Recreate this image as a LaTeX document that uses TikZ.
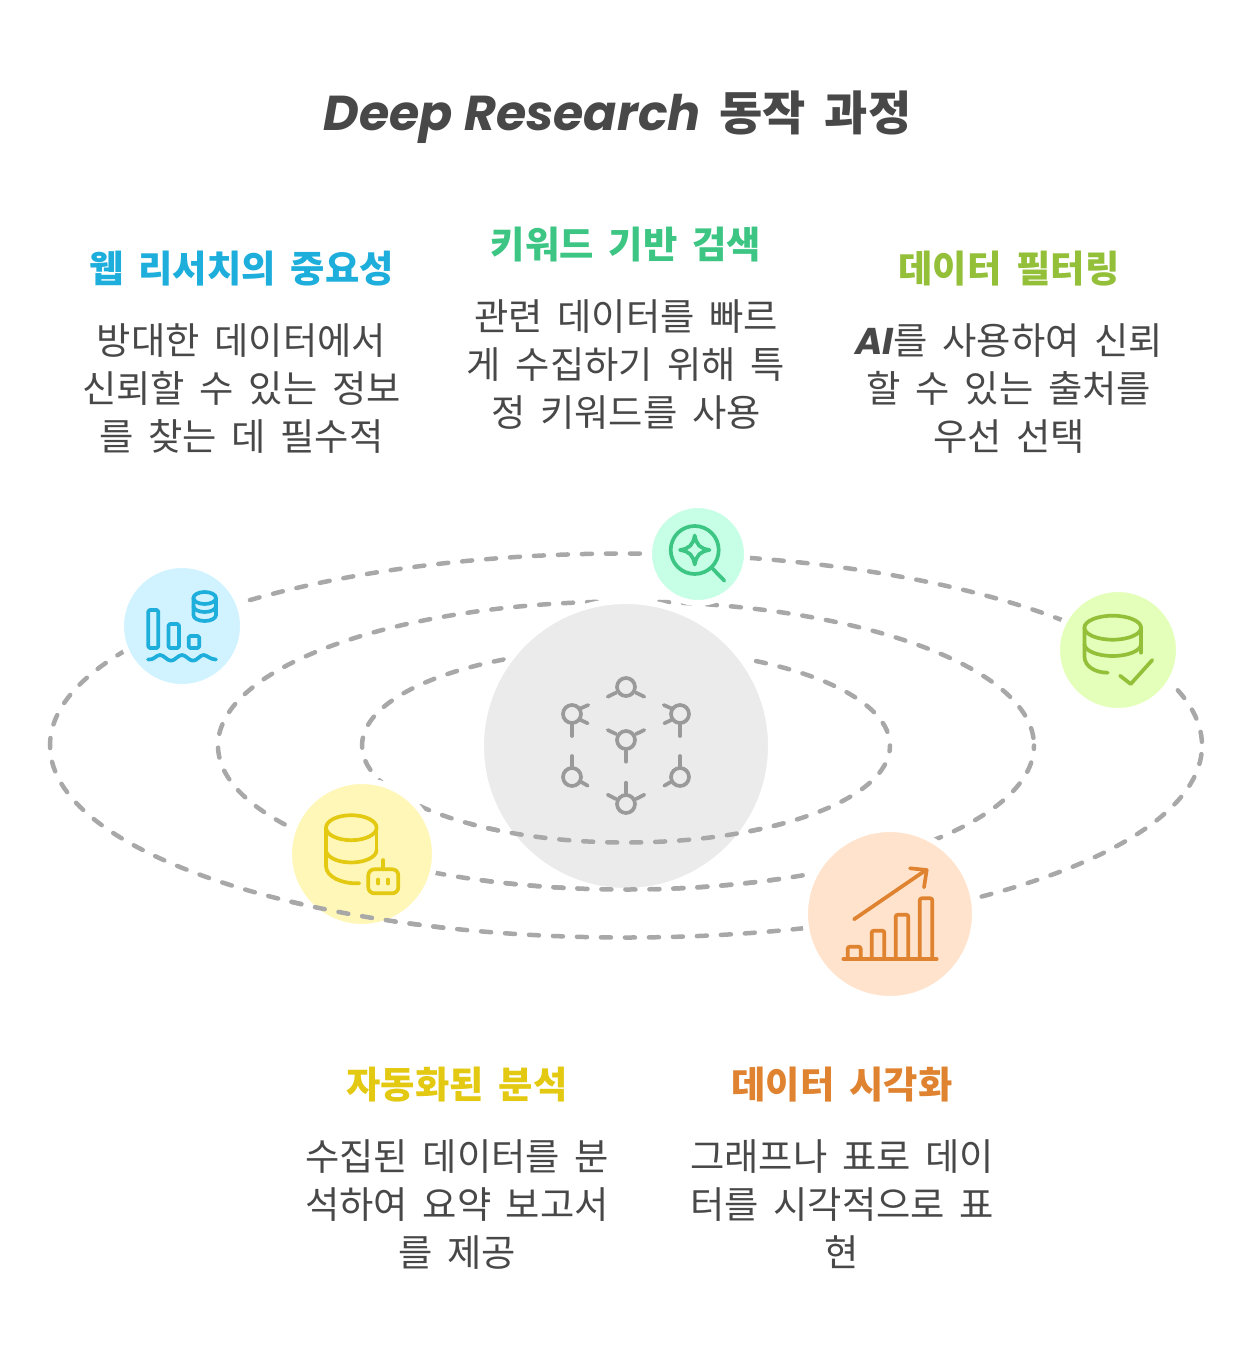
\documentclass[tikz,border=0pt]{standalone}
\usepackage{fontspec}
\setmainfont[WordSpace=1.75]{Noto Sans CJK KR}
\newfontfamily\handfont{Poppins}
\usetikzlibrary{calc,positioning}
\definecolor{inktext}{HTML}{484848}
\definecolor{orbitgray}{HTML}{A8A8A8}
\definecolor{hubfill}{HTML}{EBEBEB}
\definecolor{hubline}{HTML}{9A9A9A}
\definecolor{webline}{HTML}{1EAEDB}
\definecolor{webfill}{HTML}{D1F3FF}
\definecolor{keyline}{HTML}{3CC583}
\definecolor{keyfill}{HTML}{C6FFE5}
\definecolor{filterline}{HTML}{93BF39}
\definecolor{filterfill}{HTML}{E4FFBA}
\definecolor{autoline}{HTML}{E3C912}
\definecolor{autofill}{HTML}{FFF7B8}
\definecolor{chartline}{HTML}{E08330}
\definecolor{chartfill}{HTML}{FFE3CC}
\newcommand{\orbitinner}{(626,745.5) ellipse [x radius=264pt, y radius=97pt]}
\newcommand{\orbitmiddle}{(626,745.5) ellipse [x radius=408pt, y radius=144pt]}
\newcommand{\orbitouter}{(626,745.5) ellipse [x radius=576pt, y radius=192pt]}
\tikzstyle{orbit}=[
  draw=orbitgray,
  line width=4.5pt,
  line cap=round,
  dash pattern=on 10pt off 14pt,
]
\tikzstyle{disc}=[
  circle,
  inner sep=0pt,
  outer sep=0pt,
  draw=white,
  line width=6pt,
]
\tikzstyle{icon}=[
  line width=3.7pt,
  line cap=round,
  line join=round,
]
\tikzstyle{heading}=[
  font={\fontsize{37.3}{48}\selectfont\bfseries},
  align=center,
  inner sep=0pt,
]
\tikzstyle{bodytext}=[
  color=inktext,
  font={\fontsize{37.3}{48}\selectfont},
  align=center,
  inner sep=0pt,
]
\tikzset{
  x=1pt,
  y=-1pt,
  node distance=36.5pt,
}
\begin{document}
\begin{tikzpicture}
  \useasboundingbox (0,0) rectangle (1252,1372);
  \draw [orbit, dash phase=10pt] \orbitinner;
  \draw [orbit, dash phase=16.3pt] \orbitmiddle;
  \draw [orbit, dash phase=20.3pt] \orbitouter;

  \node [disc, fill=hubfill, minimum size=290pt] (hub) at (626,746) {};
  \node [disc, fill=webfill, minimum size=122pt] (web) at (182,626) {};
  \node [disc, fill=keyfill, minimum size=98pt] (key) at (698,554) {};
  \node [disc, fill=filterfill, minimum size=122pt] (filter) at (1118,650) {};
  \node [disc, fill=autofill, minimum size=146pt] (auto) at (362,854) {};
  \node [disc, fill=chartfill, minimum size=170pt] (chart) at (890,914) {};

  \begin{scope}
    \clip (470,745) rectangle (782,900);
    \draw [orbit, dash phase=10pt] \orbitinner;
    \draw [orbit, dash phase=16.3pt] \orbitmiddle;
  \end{scope}
  \begin{scope}
    \clip (280,880) rectangle (445,935);
    \draw [orbit, dash phase=20.3pt] \orbitouter;
  \end{scope}

  % hub
  \begin{scope}[icon, draw=hubline]
    \foreach \cx/\cy in {626/687, 572/714, 680/714, 626/740, 572/777, 680/777, 626/804}
      \draw (\cx,\cy) circle (9pt);
    \draw (616,692.7) -- (607.7,696.7);
    \draw (636,692.7) -- (644.3,696.7);
    \draw (580.7,708.3) -- (588.3,705);
    \draw (580.7,720) -- (587.7,723.3);
    \draw (572,725) -- (572,736);
    \draw (671.3,708.3) -- (663.7,705);
    \draw (671.3,720) -- (664.3,723.3);
    \draw (680,725) -- (680,736);
    \draw (616,734) -- (607.7,730);
    \draw (636,734) -- (644.3,730);
    \draw (626,750) -- (626,761.7);
    \draw (572,766.7) -- (572,756);
    \draw (580.7,781.7) -- (587.7,785.7);
    \draw (680,766.7) -- (680,756);
    \draw (671.3,781.7) -- (664.3,785.7);
    \draw (626,793.3) -- (626,782.7);
    \draw (616,799) -- (607.7,794.7);
    \draw (636,799) -- (644.3,794.7);
  \end{scope}

  % web
  \begin{scope}[icon, draw=webline]
    \draw [rounded corners=1.5pt] (148.3,610) rectangle (158.3,648);
    \draw [rounded corners=1.5pt] (168.5,624) rectangle (179,648);
    \draw [rounded corners=1.5pt] (188.7,636) rectangle (199.3,648);
    \draw (148,659.5) .. controls (154,660.5) and (156,655) .. (160,655)
      .. controls (164,655) and (167,660.7) .. (171,660.7)
      .. controls (175,660.7) and (178,655) .. (182,655)
      .. controls (186,655) and (189,660.7) .. (193,660.7)
      .. controls (197,660.7) and (200,655) .. (203.5,655)
      .. controls (207,655) and (210,659.5) .. (216,659.5);
    \draw (204.7,598) ellipse [x radius=11.3pt, y radius=6pt];
    \draw (193.4,598) -- (193.4,615) arc [start angle=180, end angle=360, x radius=11.3pt, y radius=6pt] -- (216,598);
    \draw (193.4,606) arc [start angle=180, end angle=360, x radius=11.3pt, y radius=6pt];
  \end{scope}

  % key
  \begin{scope}[icon, draw=keyline]
    \draw (694.7,550) circle (24pt);
    \draw (711.7,567.7) -- (724.3,580.7);
    \draw (694.7,535.5) .. controls (696.5,545) and (700,548.5) .. (709.5,550)
      .. controls (700,551.5) and (696.5,555) .. (694.7,564.5)
      .. controls (693,555) and (689.5,551.5) .. (680,550)
      .. controls (689.5,548.5) and (693,545) .. (694.7,535.5) -- cycle;
  \end{scope}

  % filter
  \begin{scope}[icon, draw=filterline]
    \draw (1112.7,627.7) ellipse [x radius=28.3pt, y radius=12pt];
    \draw (1141,627.7) -- (1141,652.7);
    \draw (1084.4,627.7) -- (1084.4,656)
      .. controls (1084.4,667) and (1096,672.7) .. (1107.7,672.7);
    \draw (1084.4,644) arc [start angle=180, end angle=360, x radius=28.3pt, y radius=12pt];
    \draw (1120,675.7) -- (1130.7,684) -- (1152.3,660);
  \end{scope}

  % auto
  \begin{scope}[icon, draw=autoline]
    \draw (351.3,827.7) ellipse [x radius=25.3pt, y radius=12.5pt];
    \draw (376.6,827.7) -- (376.6,850);
    \draw (326,827.7) -- (326,866)
      .. controls (326,877) and (342,884) .. (359.3,883.3);
    \draw (326,850) arc [start angle=180, end angle=360, x radius=25.3pt, y radius=12.5pt];
    \draw [rounded corners=6pt] (368.3,869.3) rectangle (398.3,893.3);
    \draw (383.3,860) -- (383.3,869.3);
    \draw (378.3,879.5) -- (378.3,883.5);
    \draw (387.7,879.5) -- (387.7,883.5);
  \end{scope}

  % chart
  \begin{scope}[icon, draw=chartline]
    \draw (843.3,959) -- (936.7,959);
    \draw [rounded corners=2pt] (847.7,959) -- (847.7,946.7) -- (860.7,946.7) -- (860.7,959);
    \draw [rounded corners=2pt] (871.7,959) -- (871.7,930.7) -- (884.3,930.7) -- (884.3,959);
    \draw [rounded corners=2pt] (895.7,959) -- (895.7,914.7) -- (908.3,914.7) -- (908.3,959);
    \draw [rounded corners=2pt] (919.7,959) -- (919.7,898.3) -- (932.3,898.3) -- (932.3,959);
    \draw (854,919.3) -- (926,870);
    \draw (910,868.3) -- (926.7,870) -- (924,887.3);
  \end{scope}

  \node [color=inktext, inner sep=0pt, font={\fontsize{47}{56}\selectfont\bfseries}] (title) at (617.5,117)
    {{\handfont\itshape\fontsize{49}{56}\selectfont Deep Research} 동작 과정};

  \node [heading, color=webline] (webhead) at (241.5,269) {웹 리서치의 중요성};
  \node [bodytext, below=of webhead.south, anchor=north] (webtext) {방대한 데이터에서\\신뢰할 수 있는 정보\\를 찾는 데 필수적};
  \node [heading, color=keyline] (keyhead) at (626,245) {키워드 기반 검색};
  \node [bodytext, below=of keyhead.south, anchor=north] (keytext) {관련 데이터를 빠르\\게 수집하기 위해 특\\정 키워드를 사용};
  \node [heading, color=filterline] (filterhead) at (1009,269) {데이터 필터링};
  \node [bodytext, below=of filterhead.south, anchor=north] (filtertext) {{\handfont\itshape\bfseries AI}를 사용하여 신뢰\\할 수 있는 출처를\\우선 선택};
  \node [heading, color=autoline] (autohead) at (457,1085) {자동화된 분석};
  \node [bodytext, below=of autohead.south, anchor=north] (autotext) {수집된 데이터를 분\\석하여 요약 보고서\\를 제공};
  \node [heading, color=chartline] (charthead) at (842,1085) {데이터 시각화};
  \node [bodytext, below=of charthead.south, anchor=north] (charttext) {그래프나 표로 데이\\터를 시각적으로 표\\현};
\end{tikzpicture}
\end{document}
